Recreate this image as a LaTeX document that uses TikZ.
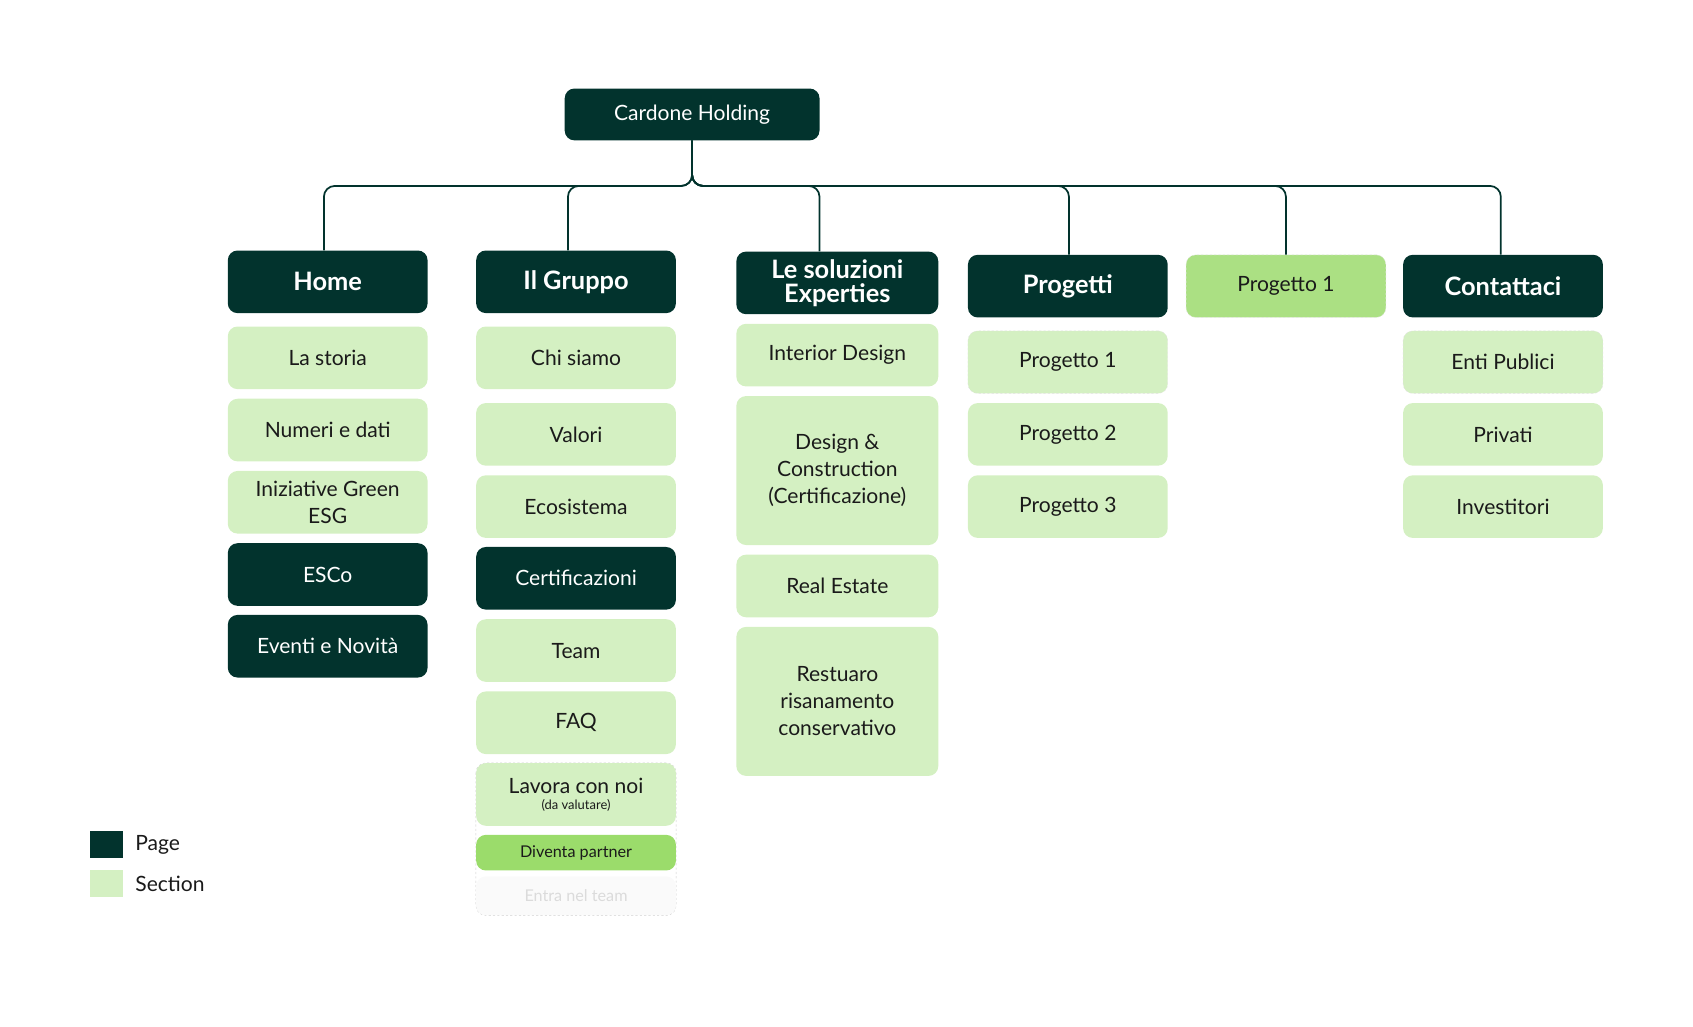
\documentclass[tikz,border=0pt]{standalone}
\usepackage{fontspec}
\setmainfont{Lato}
\usetikzlibrary{positioning, backgrounds}
\definecolor{pagegreen}{RGB}{2, 51, 45}
\definecolor{sectgreen}{RGB}{212, 240, 194}
\definecolor{hlgreen}{RGB}{171, 224, 131}
\definecolor{partgreen}{RGB}{155, 220, 107}
\definecolor{inkgray}{RGB}{26, 26, 26}

\begin{document}
\begin{tikzpicture}[x=1pt, y=-1pt,
  node distance=8.5pt,
  sect/.style={fill=sectgreen, text=inkgray, rounded corners=9pt, minimum width=185pt, minimum height=58pt, inner sep=0pt, align=center, font=\fontsize{19.5}{25}\selectfont},
  page/.style={sect, fill=pagegreen, text=white},
  head/.style={page, font=\fontsize{23.5}{22}\selectfont\bfseries},
  wide/.style={minimum width=187pt},
  small/.style={font=\fontsize{15}{15}\selectfont},
  link/.style={draw=pagegreen, line width=1.6pt, rounded corners=10pt}
]
  \useasboundingbox (0,0) rectangle (1568,951);

  % root and top level
  \node[page, minimum width=236pt, minimum height=48pt] (root) at (641,106) {Cardone Holding};
  \node[head] (home) at (303.5,261) {Home};
  \node[head] (gruppo) at (533.5,261) {Il Gruppo};
  \node[head, wide] (soluz) at (775.5,262) {Le soluzioni\\Experties};
  \node[head] (progetti) at (989,265) {Progetti};
  \node[sect, fill=hlgreen, draw=black!12, dash pattern=on 2pt off 2pt] (prog1) at (1191,265) {Progetto 1};
  \node[head] (contatti) at (1392,265) {Contattaci};

  % Home
  \node[sect, below=12pt of home] (storia) {La storia};
  \node[sect, below=of storia] (numeri) {Numeri e dati};
  \node[sect, below=of numeri] (esg) {Iniziative Green\\ESG};
  \node[page, below=of esg] (esco) {ESCo};
  \node[page, below=8pt of esco] (eventi) {Eventi e Novità};

  % Il Gruppo
  \node[sect, below=12pt of gruppo] (chi) {Chi siamo};
  \node[sect, below=12.5pt of chi] (valori) {Valori};
  \node[sect, below=of valori] (ecosist) {Ecosistema};
  \node[page, below=8pt of ecosist] (certif) {Certificazioni};
  \node[sect, below=of certif] (team) {Team};
  \node[sect, below=of team] (faq) {FAQ};
  \node[sect, below=8pt of faq] (lavora) {Lavora con noi\\[-10pt]{\fontsize{12}{13}\selectfont(da valutare)}};
  \node[sect, small, fill=partgreen, minimum height=33pt, below=8pt of lavora] (partner) {Diventa partner};
  \node[sect, small, fill=black!2, text=black!14, minimum height=36pt, below=5pt of partner] (entra) {Entra nel team};
  \begin{scope}[on background layer]
    \draw[black!20, dash pattern=on 2pt off 2pt, rounded corners=9pt] (lavora.north west) rectangle (entra.south east);
  \end{scope}

  % Le soluzioni
  \node[sect, wide, below=of soluz] (interior) {Interior Design};
  \node[sect, wide, minimum height=138pt, below=of interior] (dc) {Design \&\\Construction\\(Certificazione)};
  \node[sect, wide, below=of dc] (real) {Real Estate};
  \node[sect, wide, minimum height=138pt, below=of real] (restauro) {Restuaro\\risanamento\\conservativo};

  % Progetti
  \node[sect, draw=black!12, dash pattern=on 2pt off 2pt, below=12pt of progetti] (pa) {Progetto 1};
  \node[sect, below=of pa] (pb) {Progetto 2};
  \node[sect, below=of pb] (pc) {Progetto 3};

  % Contattaci
  \node[sect, draw=black!12, dash pattern=on 2pt off 2pt, below=12pt of contatti] (enti) {Enti Publici};
  \node[sect, below=of enti] (privati) {Privati};
  \node[sect, below=of privati] (invest) {Investitori};

  % tree links
  \foreach \child/\dx in {home/-3.5, gruppo/-7.5, soluz/-16.5, progetti/1, prog1/0, contatti/-2}
    \draw[link] (root.south) -- ++(0,42) -| ([xshift=\dx pt]\child.north);

  % legend
  \node[fill=pagegreen, minimum width=31pt, minimum height=25pt, inner sep=0pt] (keypage) at (98.5,782.5) {};
  \node[right=11pt of keypage, inner sep=0pt, text=inkgray, font=\fontsize{19.5}{19.5}\selectfont] (keypagetxt) {Page};
  \node[fill=sectgreen, minimum width=31pt, minimum height=25pt, inner sep=0pt] (keysect) at (98.5,818.5) {};
  \node[right=11pt of keysect, inner sep=0pt, text=inkgray, font=\fontsize{19.5}{19.5}\selectfont] (keysecttxt) {Section};
\end{tikzpicture}
\end{document}
